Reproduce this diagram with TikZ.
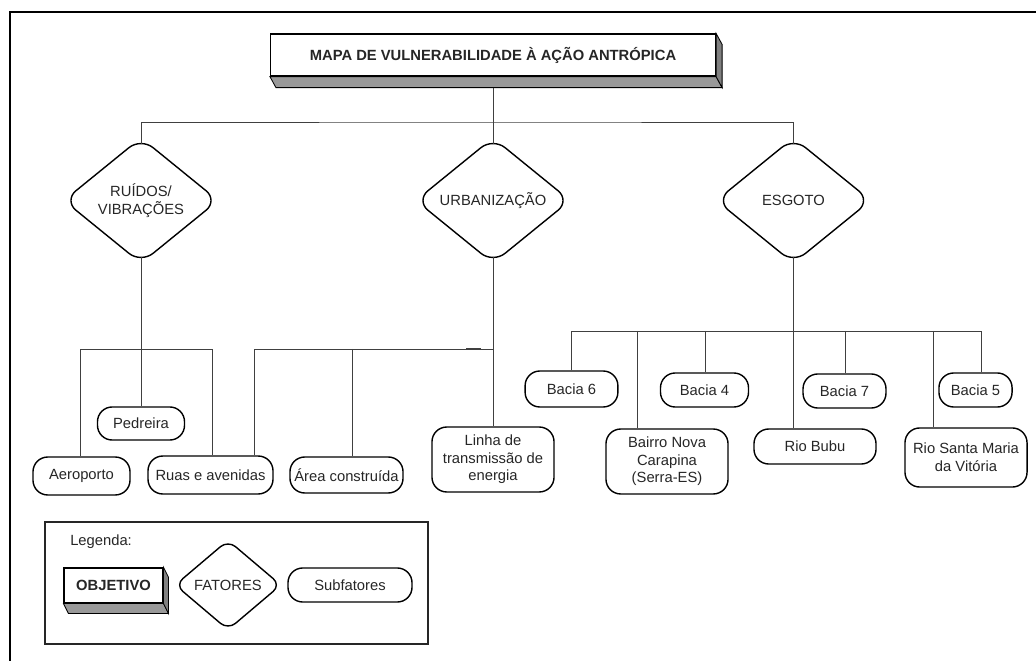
\documentclass[tikz,border=0pt]{standalone}
\usepackage{fontspec}
\setmainfont{Liberation Sans}
\usetikzlibrary{shapes.geometric,calc}

\begin{document}
\begin{tikzpicture}[x=0.025cm,y=-0.025cm,
		every node/.style={font=\fontsize{10.5}{12.5}\selectfont, text=black!85},
		sub/.style={draw, line width=1pt, rounded corners=10.5pt, align=center, inner sep=1pt},
		fator/.style={diamond, draw, line width=1pt, rounded corners=11pt, align=center, inner sep=0pt, minimum width=110pt, minimum height=89.5pt},
		objbox/.style={draw, line width=0.8pt, fill=white, inner sep=0pt, font=\fontsize{10.5}{12.5}\selectfont\bfseries},
		side/.style={draw, line width=0.6pt, fill=black!40},
		link/.style={draw=black!75, line width=0.7pt}]
		\useasboundingbox (0,0) rectangle (1036,661);

		% the frame of the figure
		\draw[line width=1.9pt] (10,661) -- (10,12) -- (1036,12);

		% the objective with its two side faces
		\node[objbox, minimum width=316.5pt, minimum height=29.9pt] (titulo) at (493,55) {MAPA DE VULNERABILIDADE À AÇÃO ANTRÓPICA};
		\filldraw[side] (titulo.south west) -- ++(6,11) -- ($(titulo.south east)+(6,11)$) -- (titulo.south east) -- cycle;
		\filldraw[side, fill=black!50] (titulo.north east) -- ++(6,11) -- ($(titulo.south east)+(6,11)$) -- (titulo.south east) -- cycle;

		% the three factors
		\node[fator] (ruidos) at (141,200.5) {RUÍDOS/\\VIBRAÇÕES};
		\node[fator] (urban) at (493,200.5) {URBANIZAÇÃO};
		\node[fator] (esgoto) at (793.5,200.5) {ESGOTO};

		% subfactors of ruidos and urbanizacao
		\node[sub, minimum width=61.9pt, minimum height=23.5pt] (pedreira) at (141,423.5) {Pedreira};
		\node[sub, minimum width=69pt, minimum height=27pt] (aeroporto) at (81.5,476) {Aeroporto};
		\node[sub, minimum width=88.9pt, minimum height=27pt] (ruas) at (210.5,475) {Ruas e avenidas};
		\node[sub, minimum width=80.4pt, minimum height=25.6pt] (area) at (346.5,475) {Área construída};
		\node[sub, minimum width=86.8pt, minimum height=46.2pt] (linha) at (493,459.5) {Linha de\\transmissão de\\energia};

		% subfactors of esgoto
		\node[sub, minimum width=66pt, minimum height=25.6pt] (bacia6) at (571.5,389) {Bacia 6};
		\node[sub, minimum width=62.6pt, minimum height=24.2pt] (bacia4) at (704.5,390) {Bacia 4};
		\node[sub, minimum width=59pt, minimum height=24.2pt] (bacia7) at (844.5,391) {Bacia 7};
		\node[sub, minimum width=52pt, minimum height=24.2pt] (bacia5) at (975.5,390) {Bacia 5};
		\node[sub, minimum width=86.8pt, minimum height=46.2pt] (bairro) at (667,461.5) {Bairro Nova\\Carapina\\(Serra-ES)};
		\node[sub, minimum width=86.8pt, minimum height=24.9pt] (bubu) at (815,446.5) {Rio Bubu};
		\node[sub, minimum width=86.8pt, minimum height=42pt] (santa) at (966,457.5) {Rio Santa Maria\\da Vitória};

		% objective to factors
		\coordinate (top) at (493,122);
		\draw[link] ($(titulo.south)+(0,11)$) -- (top);
		\draw[link] ($(ruidos.north)+(0,7)$) |- (top) -| ($(esgoto.north)+(0,7)$);
		\draw[link] (top) -- ($(urban.north)+(0,7)$);

		% ruidos branches
		\coordinate (r1) at (80,349);
		\coordinate (r2) at (212,349);
		\draw[link] ($(ruidos.south)-(0,7)$) -- (pedreira.north);
		\draw[link] (aeroporto.north -| r1) -- (r1) -- (r2) -- (ruas.north -| r2);

		% urbanizacao branches
		\coordinate (u1) at (254,349);
		\coordinate (u2) at (352,349);
		\coordinate (u3) at (493,349);
		\draw[link] ($(urban.south)-(0,7)$) -- (linha.north);
		\draw[link] (ruas.north -| u1) -- (u1) -- (u3);
		\draw[link] (u2) -- (area.north -| u2);
		\draw[link, line width=1.6pt] (u3) ++(-27,0) -- ++(15,0);

		% esgoto branches
		\coordinate (e0) at (571,331);
		\coordinate (e1) at (637,331);
		\coordinate (e2) at (705,331);
		\coordinate (e4) at (845,331);
		\coordinate (e5) at (933,331);
		\coordinate (e6) at (981,331);
		\draw[link] ($(esgoto.south)-(0,7)$) -- (bubu.north -| esgoto);
		\draw[link] (bacia6.north -| e0) -- (e0) -- (e6) -- (bacia5.north -| e6);
		\foreach \j/\n in {e1/bairro, e2/bacia4, e4/bacia7, e5/santa}
			\draw[link] (\j) -- (\n.north -| \j);

		% legend
		\node[draw=black!85, line width=0.8pt, minimum width=272.4pt, minimum height=86.8pt, inner sep=0pt] (legenda) at (236.5,583) {};
		\node[anchor=west, inner sep=0pt] (legtit) at (70,542) {Legenda:};
		\node[objbox, minimum width=70.4pt, minimum height=24.9pt] (objetivo) at (113.5,585.5) {OBJETIVO};
		\filldraw[side] (objetivo.south west) -- ++(5,10) -- ($(objetivo.south east)+(5,10)$) -- (objetivo.south east) -- cycle;
		\filldraw[side, fill=black!50] (objetivo.north east) -- ++(5,10) -- ($(objetivo.south east)+(5,10)$) -- (objetivo.south east) -- cycle;
		\node[fator, minimum width=75.4pt, minimum height=64pt, rounded corners=7pt] (fatores) at (228,585) {FATORES};
		\node[sub, minimum width=88.2pt, minimum height=24.2pt] (subf) at (350,585) {Subfatores};
	\end{tikzpicture}
\end{document}
